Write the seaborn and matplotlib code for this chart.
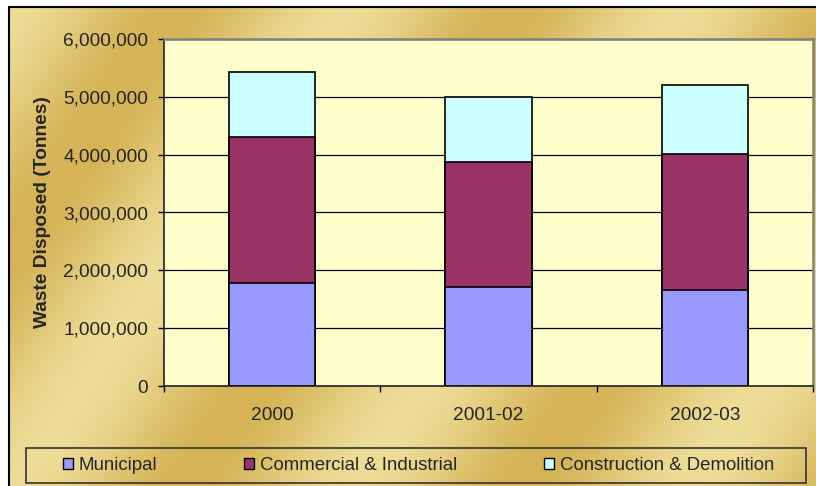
import numpy as np
import pandas as pd
import matplotlib
matplotlib.use("Agg")
import matplotlib.pyplot as plt
from matplotlib.patches import Rectangle, Patch
from matplotlib.lines import Line2D
import seaborn as sns

# ---- data ----
periods = ["2000", "2001-02", "2002-03"]
municipal = [1786000, 1706000, 1655000]
commercial = [2514000, 2173000, 2351000]
construction = [1135000, 1118000, 1194000]
series_names = ["Municipal", "Commercial & Industrial", "Construction & Demolition"]
series_colors = ["#9999FF", "#993366", "#CCFFFF"]
yticks = [0, 1000000, 2000000, 3000000, 4000000, 5000000, 6000000]

sns.set_theme(style="white")
plt.rcParams['font.family'] = ['Liberation Sans', 'DejaVu Sans']
FS = 13.8

W, H = 816, 486
fig = plt.figure(figsize=(W / 100, H / 100), dpi=100)
fig.patch.set_facecolor("white")

# ---- gold gradient background ----
bx0, by0 = 9, 7  # left, top pixel of frame
bg = fig.add_axes([bx0 / W, 0, (W - bx0) / W, (H - by0) / H], zorder=-10)
yy, xx = np.mgrid[by0:H, bx0:W]
s = (210 * xx + 145 * yy) / 255.2
d = (1 + np.cos(2 * np.pi * (s - 150) / 278)) / 2
d = 0.1 + 0.8 * d
light = np.array([240, 226, 160]) / 255
dark = np.array([210, 174, 78]) / 255
img = light[None, None, :] * (1 - d[..., None]) + dark[None, None, :] * d[..., None]
bg.imshow(img, aspect="auto", interpolation="bilinear")
bg.set_axis_off()
# black frame lines (top and left)
fig.add_artist(Line2D([bx0 / W, 1], [1 - by0 / H, 1 - by0 / H], color="black", lw=1.5, transform=fig.transFigure))
fig.add_artist(Line2D([bx0 / W, bx0 / W], [0, 1 - by0 / H], color="black", lw=1.5, transform=fig.transFigure))

# ---- main axes ----
L, T, R, B = 164, 39, 813, 386
ax = fig.add_axes([L / W, 1 - B / H, (R - L) / W, (B - T) / H])
ax.set_facecolor("#FFFFCC")

df = pd.DataFrame({
    "period": periods,
    "m": municipal,
    "mc": np.array(municipal) + np.array(commercial),
    "total": np.array(municipal) + np.array(commercial) + np.array(construction),
})

for col, color in [("total", series_colors[2]), ("mc", series_colors[1]), ("m", series_colors[0])]:
    sns.barplot(data=df, x="period", y=col, color=color, width=0.4,
                edgecolor="black", linewidth=1.2, saturation=1, ax=ax, zorder=3)

ax.set_xlim(-0.5, 2.5)
ax.set_ylim(0, 6000000)
ax.set_yticks(yticks)
ax.set_yticklabels([f"{v:,}" for v in yticks])
ax.yaxis.grid(True, color="black", lw=0.9)
ax.set_axisbelow(True)
ax.set_xlabel("")
ax.set_ylabel("")

ax.tick_params(axis="y", which="major", direction="out", length=4.5, width=1,
               color="black", pad=7, labelsize=FS, left=True)
ax.set_xticks([-0.5, 0.5, 1.5, 2.5], minor=True)
ax.tick_params(axis="x", which="minor", direction="out", length=4, width=1, color="black", bottom=True)
ax.tick_params(axis="x", which="major", length=0, pad=15, labelsize=FS)

for side in ["left", "bottom"]:
    ax.spines[side].set_color("#222222")
    ax.spines[side].set_linewidth(1.2)
for side in ["top", "right"]:
    ax.spines[side].set_color("#808080")
    ax.spines[side].set_linewidth(1.8)
    ax.spines[side].set_visible(True)

fig.text(43 / W, 1 - 212.5 / H, "Waste Disposed (Tonnes)", rotation=90,
         ha="center", va="center", fontsize=FS, fontweight="bold")

# ---- legend ----
fig.add_artist(Rectangle((26 / W, 1 - 483 / H), 780 / W, 35 / H, transform=fig.transFigure,
                         facecolor="none", edgecolor="#333333", lw=1.2))
handles = [Patch(facecolor=c, edgecolor="black", lw=1) for c in series_colors]
fig.legend(handles, series_names, loc="center left",
           bbox_to_anchor=(63 / W, 1 - 483 / H, 711 / W, 35 / H),
           mode="expand", ncol=3, frameon=False, fontsize=13.4,
           handlelength=0.55, handleheight=0.55, handletextpad=0.3,
           borderpad=0.0, borderaxespad=0)

fig.savefig("out.png", dpi=100)
